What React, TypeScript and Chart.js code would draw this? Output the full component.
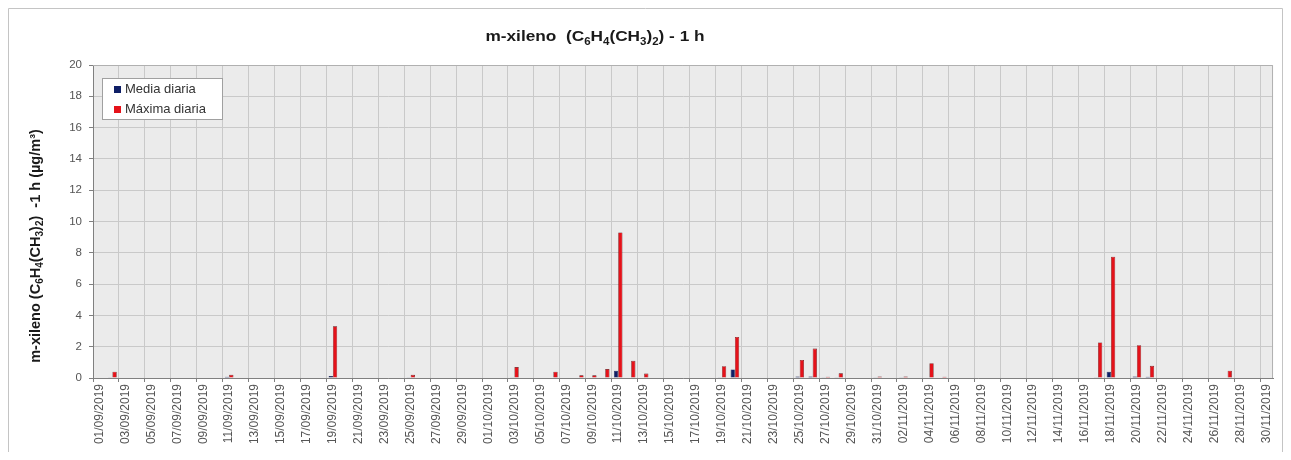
import React, { useEffect, useRef } from 'react';
import { Chart, registerables } from 'chart.js';

Chart.register(...registerables);

const categories: string[] = [
  '01/09/2019', '02/09/2019', '03/09/2019', '04/09/2019', '05/09/2019', '06/09/2019', '07/09/2019', '08/09/2019', '09/09/2019', '10/09/2019',
  '11/09/2019', '12/09/2019', '13/09/2019', '14/09/2019', '15/09/2019', '16/09/2019', '17/09/2019', '18/09/2019', '19/09/2019', '20/09/2019',
  '21/09/2019', '22/09/2019', '23/09/2019', '24/09/2019', '25/09/2019', '26/09/2019', '27/09/2019', '28/09/2019', '29/09/2019', '30/09/2019',
  '01/10/2019', '02/10/2019', '03/10/2019', '04/10/2019', '05/10/2019', '06/10/2019', '07/10/2019', '08/10/2019', '09/10/2019', '10/10/2019',
  '11/10/2019', '12/10/2019', '13/10/2019', '14/10/2019', '15/10/2019', '16/10/2019', '17/10/2019', '18/10/2019', '19/10/2019', '20/10/2019',
  '21/10/2019', '22/10/2019', '23/10/2019', '24/10/2019', '25/10/2019', '26/10/2019', '27/10/2019', '28/10/2019', '29/10/2019', '30/10/2019',
  '31/10/2019', '01/11/2019', '02/11/2019', '03/11/2019', '04/11/2019', '05/11/2019', '06/11/2019', '07/11/2019', '08/11/2019', '09/11/2019',
  '10/11/2019', '11/11/2019', '12/11/2019', '13/11/2019', '14/11/2019', '15/11/2019', '16/11/2019', '17/11/2019', '18/11/2019', '19/11/2019',
  '20/11/2019', '21/11/2019', '22/11/2019', '23/11/2019', '24/11/2019', '25/11/2019', '26/11/2019', '27/11/2019', '28/11/2019', '29/11/2019',
  '30/11/2019',
];

const mediaDiaria: (number | null)[] = [
  null, 0.02, null, null, null, null, null, null, null, null,
  0.08, null, null, null, null, null, null, null, 0.12, null,
  null, null, null, null, 0.05, null, null, null, null, null,
  null, null, 0.05, null, null, 0.03, null, 0.03, 0.03, 0.03,
  0.47, 0.03, null, null, null, null, null, null, 0.05, 0.55,
  null, null, null, null, 0.1, 0.1, 0.05, 0.02, null, null,
  0.05, null, 0.02, null, 0.03, null, null, null, null, null,
  null, null, null, null, null, null, null, 0.05, 0.4, null,
  0.1, 0.08, null, null, null, null, null, 0.03, null, null,
  null,
];

const maximaDiaria: (number | null)[] = [
  null, 0.4, null, null, null, null, null, null, null, null,
  0.2, null, null, null, null, null, null, null, 3.3, null,
  null, null, null, null, 0.2, null, null, null, null, null,
  null, null, 0.7, null, null, 0.4, null, 0.17, 0.17, 0.57,
  9.3, 1.1, 0.28, null, null, null, null, null, 0.75, 2.62,
  null, null, null, null, 1.15, 1.88, 0.08, 0.3, null, null,
  0.1, null, 0.1, null, 0.95, 0.08, null, null, null, null,
  null, null, null, null, null, null, null, 2.27, 7.75, null,
  2.1, 0.78, null, null, null, null, null, 0.47, null, null,
  null,
];

const seriesLabels: string[] = ['Media diaria', 'Máxima diaria'];
const seriesColors: string[] = ['#0f1f66', '#e5121a'];

const FAM = "'Liberation Sans', Arial, Helvetica, sans-serif";

type Seg = { t: string; s?: 'sub' | 'sup' };

const titleSegs: Seg[] = [
  { t: 'm-xileno  (C' }, { t: '6', s: 'sub' }, { t: 'H' }, { t: '4', s: 'sub' },
  { t: '(CH' }, { t: '3', s: 'sub' }, { t: ')' }, { t: '2', s: 'sub' }, { t: ') - 1 h' },
];
const yTitleSegs: Seg[] = [
  { t: 'm-xileno (C' }, { t: '6', s: 'sub' }, { t: 'H' }, { t: '4', s: 'sub' },
  { t: '(CH' }, { t: '3', s: 'sub' }, { t: ')' }, { t: '2', s: 'sub' }, { t: ')  -1 h (µg/m³)' },
];

function drawRich(ctx: CanvasRenderingContext2D, segs: Seg[], x: number, y: number, size: number, sx = 1) {
  const fontFor = (sg: Seg) => `bold ${sg.s ? Math.round(size * 0.68) : size}px ${FAM}`;
  let total = 0;
  for (const sg of segs) {
    ctx.font = fontFor(sg);
    total += ctx.measureText(sg.t).width;
  }
  ctx.save();
  ctx.translate(x, y);
  ctx.scale(sx, 1);
  let cx = -total / 2;
  ctx.textBaseline = 'middle';
  ctx.textAlign = 'left';
  for (const sg of segs) {
    ctx.font = fontFor(sg);
    const dy = sg.s === 'sub' ? size * 0.32 : sg.s === 'sup' ? -size * 0.35 : 0;
    ctx.fillText(sg.t, cx, dy);
    cx += ctx.measureText(sg.t).width;
  }
  ctx.restore();
}

const decorPlugin = {
  id: 'decor',
  beforeDraw(chart: any) {
    const { ctx, chartArea: a } = chart;
    ctx.save();
    ctx.fillStyle = '#ffffff';
    ctx.fillRect(0, 0, chart.width, chart.height);
    ctx.fillStyle = '#ebebeb';
    ctx.fillRect(a.left, a.top, a.right - a.left, a.bottom - a.top);
    ctx.restore();
  },
  afterDraw(chart: any) {
    const { ctx, chartArea: a } = chart;
    ctx.save();
    // outer frame
    ctx.strokeStyle = '#c4c4c4';
    ctx.lineWidth = 1;
    ctx.beginPath();
    ctx.moveTo(0.5, chart.height);
    ctx.lineTo(0.5, 0.5);
    ctx.lineTo(chart.width - 0.5, 0.5);
    ctx.lineTo(chart.width - 0.5, chart.height);
    ctx.stroke();
    // plot frame top/right
    ctx.strokeStyle = '#b0b0b0';
    ctx.beginPath();
    ctx.moveTo(a.left, a.top + 0.5);
    ctx.lineTo(a.right - 0.5, a.top + 0.5);
    ctx.lineTo(a.right - 0.5, a.bottom);
    ctx.stroke();
    // title
    ctx.fillStyle = '#1a1a1a';
    drawRich(ctx, titleSegs, 587, 29, 15, 1.15);
    // y title
    ctx.save();
    ctx.translate(28, 238);
    ctx.rotate(-Math.PI / 2);
    drawRich(ctx, yTitleSegs, 0, 0, 14.5);
    ctx.restore();
    // legend
    const lx = 94, ly = 70.5, lw = 120, lh = 41;
    ctx.fillStyle = '#ffffff';
    ctx.fillRect(lx, ly, lw, lh);
    ctx.strokeStyle = '#a0a0a0';
    ctx.strokeRect(lx + 0.5, ly, lw, lh);
    ctx.font = `13px ${FAM}`;
    ctx.textBaseline = 'middle';
    ctx.textAlign = 'left';
    seriesLabels.forEach((lab, i) => {
      const cy = ly + 11 + i * 20;
      ctx.fillStyle = seriesColors[i];
      ctx.fillRect(lx + 12, cy - 3.5, 7, 7);
      ctx.fillStyle = '#333333';
      ctx.fillText(lab, lx + 23, cy);
    });
    ctx.restore();
  },
};

export default function App() {
  const ref = useRef<HTMLCanvasElement | null>(null);

  useEffect(() => {
    if (!ref.current) return;
    const chart = new Chart(ref.current, {
      type: 'bar',
      data: {
        labels: categories,
        datasets: [
          {
            label: seriesLabels[0],
            data: mediaDiaria,
            backgroundColor: seriesColors[0],
            borderColor: '#0a1240',
            borderWidth: 0.6,
            categoryPercentage: 0.66,
            barPercentage: 1,
          },
          {
            label: seriesLabels[1],
            data: maximaDiaria,
            backgroundColor: seriesColors[1],
            borderColor: '#5a0a0c',
            borderWidth: 0.6,
            categoryPercentage: 0.66,
            barPercentage: 1,
          },
        ],
      },
      options: {
        responsive: false,
        animation: false,
        devicePixelRatio: 1,
        layout: { padding: { top: 57, right: 7, left: 0, bottom: 0 } },
        plugins: {
          legend: { display: false },
          title: { display: false },
          tooltip: { enabled: false },
        },
        scales: {
          x: {
            offset: true,
            grid: {
              offset: true,
              color: (c: any) => (c.index % 2 === 0 ? '#c9c9c9' : 'rgba(0,0,0,0)'),
              tickColor: (c: any) => (c.index % 2 === 0 ? '#808080' : 'rgba(0,0,0,0)'),
              tickLength: 4,
            },
            border: { color: '#808080', width: 1 },
            ticks: {
              autoSkip: false,
              maxRotation: 90,
              minRotation: 90,
              padding: 2,
              color: '#555555',
              font: { family: FAM, size: 12 },
              callback: function (this: any, value: any, index: number) {
                return index % 2 === 0 ? this.getLabelForValue(value) : '';
              },
            },
            afterFit: (scale: any) => {
              scale.height = 74;
            },
          },
          y: {
            min: 0,
            max: 20,
            grid: {
              color: (c: any) => (c.tick && c.tick.value % 2 === 0 ? '#c9c9c9' : 'rgba(0,0,0,0)'),
              tickColor: '#808080',
              tickLength: 4,
            },
            border: { color: '#808080', width: 1 },
            ticks: {
              stepSize: 1,
              padding: 7,
              color: '#555555',
              font: { family: FAM, size: 11.5 },
              callback: (v: any) => (Number(v) % 2 === 0 ? String(v) : ''),
            },
            afterFit: (scale: any) => {
              scale.width = 85;
            },
          },
        },
      },
      plugins: [decorPlugin],
    });
    return () => chart.destroy();
  }, []);

  return <canvas ref={ref} width={1275} height={444} style={{ display: 'block' }} />;
}
